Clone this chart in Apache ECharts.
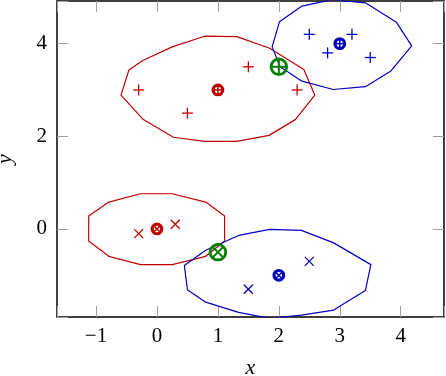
<!DOCTYPE html>
<html>
<head>
<meta charset="utf-8">
<script src="https://cdn.jsdelivr.net/npm/echarts@6/dist/echarts.min.js"></script>
<style>
  html, body { margin: 0; padding: 0; background: #fff; }
  #main { width: 446px; height: 376px; }
</style>
</head>
<body>
<div id="main"></div>
<script>
// tick labels
const xTicks = [-1, 0, 1, 2, 3, 4];
const yTicks = [0, 2, 4];

// sample points
const redPlus = [[-0.3, 3], [0.5, 2.5], [1.5, 3.5], [2.3, 3]];
const bluePlus = [[2.5, 4.2], [2.8, 3.8], [3.2, 4.2], [3.5, 3.7]];
const redCross = [[-0.3, -0.1], [0.3, 0.1]];
const blueCross = [[1.5, -1.3], [2.5, -0.7]];

// cluster centres
const redPlusCenter = [[1, 3]];
const bluePlusCenter = [[3, 4]];
const redCrossCenter = [[0, 0]];
const blueCrossCenter = [[2, -1]];
const greenPlus = [[2, 3.5]];
const greenCross = [[1, -0.5]];

// ellipse outlines (polygon vertices)
const redUpper = [[0.78, 4.16], [1.31, 4.15], [1.85, 3.90], [2.41, 3.44], [2.59, 2.89], [2.27, 2.36], [1.84, 2.02], [1.31, 1.89], [0.78, 1.89], [0.27, 1.98], [-0.23, 2.37], [-0.59, 2.89], [-0.46, 3.43], [-0.24, 3.63], [0.25, 3.93], [0.78, 4.16]];
const blueUpper = [[2.38, 4.81], [2.87, 4.95], [3.42, 4.88], [3.93, 4.46], [4.18, 3.95], [3.84, 3.41], [3.42, 3.07], [2.89, 3.01], [2.38, 3.19], [2.02, 3.50], [1.89, 3.93], [2.01, 4.47], [2.38, 4.81]];
const redLower = [[-0.79, 0.58], [-0.27, 0.76], [0.25, 0.76], [0.80, 0.58], [1.11, 0.28], [1.11, -0.26], [0.80, -0.59], [0.25, -0.77], [-0.27, -0.77], [-0.79, -0.59], [-1.12, -0.26], [-1.12, 0.28], [-0.79, 0.58]];
const blueLower = [[1.34, -0.14], [1.85, -0.01], [2.37, -0.03], [2.90, -0.30], [3.51, -0.77], [3.42, -1.33], [2.90, -1.75], [2.37, -1.86], [1.85, -1.93], [1.34, -1.80], [0.80, -1.58], [0.50, -1.31], [0.45, -0.79], [0.80, -0.46], [1.34, -0.14]];

const RED = '#bf0000', BLUE = '#0000bf', GREEN = '#008000';
const FONT = 'Liberation Serif';

var chart = echarts.init(document.getElementById('main'));

function outline(data, color) {
  return {
    type: 'line', data: data, symbol: 'none', smooth: false, z: 2,
    lineStyle: { color: color, width: 1.2 }, animation: false
  };
}

// kind: plus, cross, oplus, otimes
function markers(data, kind, color, r, lw, ringW, z) {
  return {
    type: 'custom', data: data, z: z || 3, animation: false,
    renderItem: function (params, api) {
      var p = api.coord([api.value(0), api.value(1)]);
      var x = p[0], y = p[1];
      var st = { stroke: color, lineWidth: lw };
      var kids = [];
      if (kind == 'plus' || kind == 'oplus') {
        kids.push({ type: 'line', shape: { x1: x - r, y1: y, x2: x + r, y2: y }, style: st });
        kids.push({ type: 'line', shape: { x1: x, y1: y - r, x2: x, y2: y + r }, style: st });
      } else {
        var b = kind == 'cross' ? r : r * 0.7;
        kids.push({ type: 'line', shape: { x1: x - b, y1: y - b, x2: x + b, y2: y + b }, style: st });
        kids.push({ type: 'line', shape: { x1: x - b, y1: y + b, x2: x + b, y2: y - b }, style: st });
      }
      if (kind == 'oplus' || kind == 'otimes') {
        kids.push({ type: 'circle', shape: { cx: x, cy: y, r: r }, style: { fill: 'none', stroke: color, lineWidth: ringW } });
      }
      return { type: 'group', children: kids };
    }
  };
}

// show only the round tick values, with a real minus sign
function fmtX(v) { return xTicks.indexOf(v) >= 0 ? String(v).replace('-', '\u2212') : ''; }
function fmtY(v) { return yTicks.indexOf(v) >= 0 ? String(v).replace('-', '\u2212') : ''; }

var axisLineStyle = { color: '#000', width: 1.5 };
var tickStyle = { color: '#a0a0a0', width: 1 };

function xAx(pos, labels) {
  return {
    type: 'value', min: -1.64, max: 4.71, splitNumber: 5, position: pos,
    axisLine: { onZero: false, lineStyle: axisLineStyle },
    axisTick: { show: true, inside: true, length: 11, lineStyle: tickStyle },
    axisLabel: { show: labels, formatter: fmtX, color: '#000', fontFamily: FONT, fontSize: 21, margin: 9 },
    splitLine: { show: false },
    name: labels ? 'x' : '', nameLocation: 'middle', nameGap: 40,
    nameTextStyle: { fontFamily: FONT, fontStyle: 'italic', fontSize: 22, color: '#000' }
  };
}
function yAx(pos, labels) {
  return {
    type: 'value', min: -1.9, max: 4.92, splitNumber: 3, position: pos,
    axisLine: { onZero: false, lineStyle: axisLineStyle },
    axisTick: { show: true, inside: true, length: 11, lineStyle: tickStyle },
    axisLabel: { show: labels, formatter: fmtY, color: '#000', fontFamily: FONT, fontSize: 21, margin: 10 },
    splitLine: { show: false },
    name: labels ? 'y' : '', nameLocation: 'middle', nameGap: 41, nameRotate: 90,
    nameTextStyle: { fontFamily: FONT, fontStyle: 'italic', fontSize: 22, color: '#000' }
  };
}

var option = {
  animation: false,
  grid: { left: 57, right: 2, top: 1, bottom: 59, outerBoundsMode: 'none', containLabel: false },
  xAxis: [xAx('bottom', true), xAx('top', false)],
  yAxis: [yAx('left', true), yAx('right', false)],
  series: [
    outline(redUpper, RED),
    outline(blueUpper, BLUE),
    outline(redLower, RED),
    outline(blueLower, BLUE),
    markers(redPlus, 'plus', RED, 5.5, 1.3, 0),
    markers(bluePlus, 'plus', BLUE, 5.5, 1.3, 0),
    markers(redCross, 'cross', RED, 4.5, 1.3, 0),
    markers(blueCross, 'cross', BLUE, 4.5, 1.3, 0),
    markers(redPlusCenter, 'oplus', RED, 4.8, 1.5, 3.2),
    markers(bluePlusCenter, 'oplus', BLUE, 4.8, 1.5, 3.2),
    markers(redCrossCenter, 'otimes', RED, 4.8, 1.5, 3.2),
    markers(blueCrossCenter, 'otimes', BLUE, 4.8, 1.5, 3.2),
    markers(greenPlus, 'oplus', GREEN, 7.8, 2, 2.8, 5),
    markers(greenCross, 'otimes', GREEN, 7.8, 2, 2.8, 5)
  ]
};

chart.setOption(option);
</script>
</body>
</html>
